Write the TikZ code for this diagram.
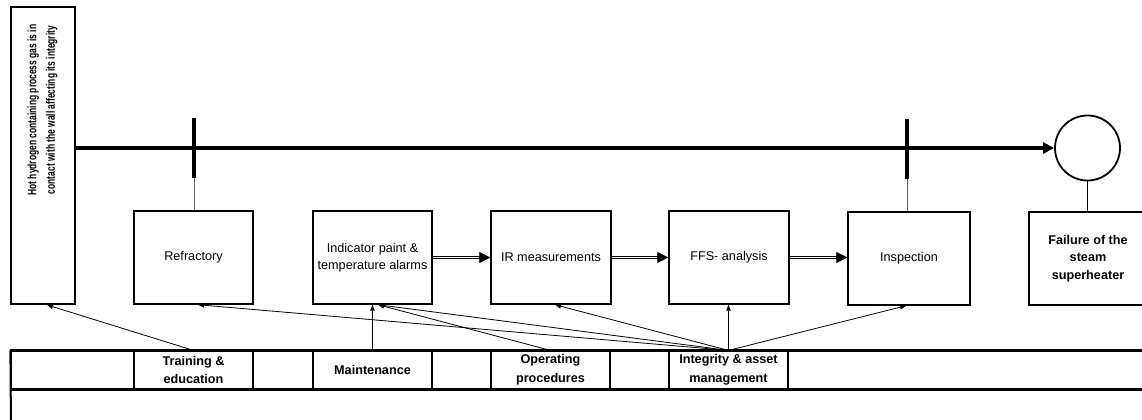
\documentclass[tikz,border=0pt]{standalone}
\usepackage{fontspec}
\setmainfont{Liberation Sans}
\newfontfamily\hotfont{Liberation Sans}[FakeStretch=0.69]
\usetikzlibrary{arrows.meta,calc}
\begin{document}
\begin{tikzpicture}[x=1bp,y=-1bp,
  box/.style={draw, line width=1.4bp, minimum width=119bp, minimum height=93bp, inner sep=2bp, align=center, font=\fontsize{12.7}{17.5}\selectfont},
  cell/.style={draw, line width=1.2bp, minimum height=38bp, inner sep=0pt, align=center, font=\bfseries\fontsize{12.7}{19}\selectfont},
  conn/.style={line width=0.8bp, -{Triangle[length=6bp,width=4.5bp]}},
  dbl/.style={double, double distance=1.8bp, line width=0.8bp},
  head/.style={line width=0.8bp, -{Triangle[length=11bp,width=11bp]}},
  tick/.style={line width=4bp},
  stem/.style={line width=1bp, black!60}]
\useasboundingbox (0,0) rectangle (1142,419);
% left box
\node[box, minimum width=64bp, minimum height=297bp, line width=1.8bp] (hot) at (43,155.5) {};
\node[rotate=90, align=center, inner sep=0pt, font=\hotfont\bfseries\fontsize{12.3}{18.5}\selectfont] (hottxt) at (42.5,110) {Hot hydrogen containing process gas is in\\contact with the wall affecting its integrity};
% barrier boxes
\node[box] (ref) at (193.5,257.5) {Refractory};
\node[box] (ind) at (372.5,257.5) {Indicator paint \&\\temperature alarms};
\node[box, minimum width=120bp] (ir) at (551,257.5) {IR measurements};
\node[box, minimum width=120bp] (ffs) at (729,257.5) {FFS- analysis};
\node[box, minimum width=122bp] (insp) at (909,258.5) {Inspection};
\node[box, minimum width=118bp, font=\bfseries\fontsize{12.7}{17.5}\selectfont] (fail) at (1088,258.5) {Failure of the\\steam\\superheater};
% top event circle
\node[circle, draw, line width=1.8bp, minimum size=65bp, inner sep=0pt] (circ) at (1087.5,148) {};
% main line
\draw[line width=4bp, -{Triangle[length=11bp,width=11bp]}] (hot.east |- circ.west) -- (circ.west);
% ticks
\coordinate (k1t) at (194,118); \coordinate (k1b) at (194,178);
\coordinate (k2t) at (907,119); \coordinate (k2b) at (907,179);
\draw[tick] (k1t) -- (k1b);
\draw[tick] (k2t) -- (k2b);
\draw[stem] (k1b) -- (k1b |- ref.north);
\draw[stem] (k2b) -- (k2b |- insp.north);
\draw[line width=1bp] (circ.south) -- (circ.south |- fail.north);
% double arrows
\draw[dbl] (ind.east) -- ($(ir.west)+(-10,0)$);
\draw[head] ($(ir.west)+(-11,0)$) -- (ir.west);
\draw[dbl] (ir.east) -- ($(ffs.west)+(-10,0)$);
\draw[head] ($(ffs.west)+(-11,0)$) -- (ffs.west);
\draw[dbl] (ffs.east) -- ($(ffs.east -| insp.west)+(-10,0)$);
\draw[head] ($(ffs.east -| insp.west)+(-11,0)$) -- (ffs.east -| insp.west);
% table
\node[cell, minimum width=123bp] (c0) at (72.5,370) {};
\node[cell, minimum width=119bp] (train) at (193.5,370) {Training \&\\education};
\node[cell, minimum width=60bp] (c2) at (283,370) {};
\node[cell, minimum width=119bp] (maint) at (372.5,370) {Maintenance};
\node[cell, minimum width=59bp] (c4) at (461.5,370) {};
\node[cell, minimum width=119bp] (oper) at (550.5,370) {Operating\\procedures};
\node[cell, minimum width=59bp] (c6) at (639.5,370) {};
\node[cell, minimum width=119bp] (integ) at (728.5,370) {Integrity \& asset\\management};
\node[cell, minimum width=362bp] (c8) at (969,370) {};
\coordinate (tb) at (11,430);
\draw[line width=2bp] (c0.north west) -- (c8.north east);
\draw[line width=2bp] (c0.south west) -- (c8.south east);
\draw[line width=2bp] (c0.north west) -- (tb);
% influence connectors
\draw[conn] (train.north) -- ($(hot.south)+(4,0)$);
\draw[conn] (maint.north) -- (maint.north |- ind.south);
\draw[conn] (oper.north) -- ($(ind.south)+(5.5,0)$);
\draw[conn] (integ.north) -- ($(ref.south)+(4.5,0)$);
\draw[conn] (integ.north) -- ($(ind.south)+(5.5,0)$);
\draw[conn] (integ.north) -- ($(ir.south)+(4,0)$);
\draw[conn] (integ.north) -- (integ.north |- ffs.south);
\draw[conn] (integ.north) -- ($(insp.south)+(-3,0)$);
\end{tikzpicture}
\end{document}
